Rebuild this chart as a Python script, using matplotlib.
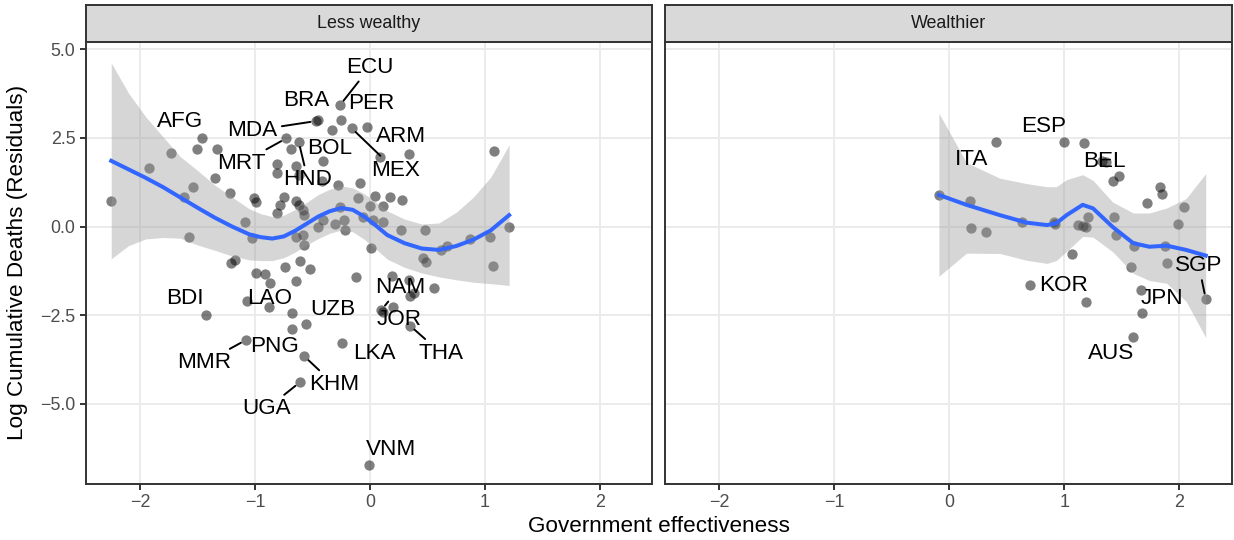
import matplotlib
matplotlib.use('Agg')
import matplotlib.pyplot as plt

plt.rcParams['font.family'] = ['Liberation Sans', 'DejaVu Sans']

panels = ['Less wealthy', 'Wealthier']

# points, less wealthy countries
less_x = [-2.25, -1.92, -1.73, -1.46, -1.50, -1.33, -1.35, -1.54, -1.62, -1.22,
          -1.57, -1.09, -1.03, -1.01, -0.99, -1.17, -1.21, -1.43, -1.07, -1.08,
          -0.99, -0.91, -0.87, -0.74, -0.61, -0.52, -0.64, -0.88, -0.68, -0.56,
          -0.68, -0.57, -0.61, -0.24, -0.12, -0.64, -0.57, -0.58, -0.45, -0.47,
          -0.25, -0.26, -0.33, -0.73, -0.62, -0.69, -0.41, -0.81, -0.81, -0.64,
          -0.62, -0.42, -0.28, -0.75, -0.78, -0.64, -0.62, -0.81, -0.58, -0.57,
          -0.45, -0.41, -0.30, -0.23, -0.22, -0.16, -0.03, 0.09, 0.34, -0.09,
          -0.10, 0.04, 0.17, 0.28, -0.26, 0.00, 0.11, -0.06, 0.03, 0.11,
          0.27, 0.48, 0.01, 0.67, 0.87, 1.04, 1.21, 1.08, 0.46, 0.49,
          0.62, 1.07, 0.19, 0.34, 0.56, 0.35, 0.38, 0.10, 0.11, 0.20,
          0.35, -0.01]
less_y = [0.72, 1.64, 2.08, 2.48, 2.18, 2.17, 1.36, 1.12, 0.84, 0.95,
          -0.30, 0.14, -0.33, 0.79, 0.70, -0.94, -1.02, -2.49, -2.09, -3.20,
          -1.30, -1.34, -1.60, -1.13, -0.96, -1.21, -1.53, -2.28, -2.44, -2.75,
          -2.90, -3.66, -4.39, -3.27, -1.41, -0.30, -0.52, -0.24, 3.00, 2.97,
          3.00, 3.42, 2.72, 2.48, 2.39, 2.18, 1.85, 1.75, 1.50, 1.70,
          1.45, 1.28, 1.17, 0.84, 0.61, 0.72, 0.61, 0.37, 0.46, 0.32,
          -0.01, 0.18, 0.07, 0.18, -0.10, 2.77, 2.81, 1.96, 2.04, 1.22,
          0.79, 0.87, 0.84, 0.76, 0.56, 0.58, 0.59, 0.28, 0.17, 0.14,
          -0.11, -0.11, -0.61, -0.55, -0.35, -0.29, -0.02, 2.13, -0.90, -0.99,
          -0.66, -1.10, -1.39, -1.51, -1.73, -1.96, -1.87, -2.35, -2.41, -2.28,
          -2.80, -6.72]

# points, wealthier countries
rich_x = [-0.09, 0.18, 0.19, 0.32, 0.41, 0.63, 0.70, 0.91, 0.92, 1.00,
          1.07, 1.12, 1.17, 1.19, 1.21, 1.19, 1.16, 1.33, 1.36, 1.42,
          1.48, 1.43, 1.45, 1.61, 1.58, 1.67, 1.68, 1.60, 1.72, 1.83,
          1.85, 1.88, 1.89, 1.99, 2.04, 2.23]
rich_y = [0.89, 0.72, -0.05, -0.15, 2.37, 0.14, -1.65, 0.14, 0.07, 2.37,
          -0.78, 0.04, 2.34, -2.12, 0.28, -0.01, 0.01, 1.85, 1.83, 1.28,
          1.42, 0.26, -0.24, -0.54, -1.15, -1.79, -2.45, -3.10, 0.65, 1.10,
          0.92, -0.55, -1.04, 0.06, 0.54, -2.04]

# loess fit and 95% band
less_fx = [-2.25, -2.1, -1.95, -1.8, -1.65, -1.5, -1.35, -1.2, -1.05, -0.95,
           -0.85, -0.75, -0.65, -0.55, -0.45, -0.35, -0.25, -0.15, -0.05, 0.05,
           0.15, 0.3, 0.45, 0.6, 0.75, 0.9, 1.05, 1.21]
less_fit = [1.85, 1.61, 1.37, 1.11, 0.82, 0.53, 0.25, 0.00, -0.22, -0.30,
            -0.34, -0.28, -0.12, 0.08, 0.28, 0.43, 0.52, 0.47, 0.28, 0.03,
            -0.24, -0.47, -0.62, -0.66, -0.55, -0.37, -0.11, 0.32]
less_hi = [4.61, 3.76, 3.09, 2.53, 1.97, 1.58, 1.17, 0.83, 0.50, 0.36,
           0.28, 0.32, 0.48, 0.68, 0.90, 1.05, 1.14, 1.09, 0.92, 0.69,
           0.44, 0.21, 0.07, 0.10, 0.40, 0.83, 1.39, 2.30]
less_lo = [-0.91, -0.54, -0.35, -0.31, -0.33, -0.52, -0.67, -0.83, -0.94, -0.96,
           -0.96, -0.88, -0.72, -0.52, -0.34, -0.19, -0.10, -0.15, -0.36, -0.63,
           -0.92, -1.15, -1.31, -1.42, -1.50, -1.57, -1.61, -1.66]

rich_fx = [-0.09, 0.15, 0.44, 0.67, 0.85, 0.93, 1.02, 1.16, 1.25, 1.42,
           1.60, 1.74, 1.89, 2.06, 2.23]
rich_fit = [0.89, 0.61, 0.32, 0.11, 0.04, 0.09, 0.32, 0.61, 0.51, -0.01,
            -0.47, -0.57, -0.54, -0.66, -0.82]
rich_hi = [3.19, 1.80, 1.36, 1.21, 1.12, 1.12, 1.32, 1.46, 1.30, 0.69,
           0.38, 0.38, 0.52, 0.79, 1.49]
rich_lo = [-1.40, -0.75, -0.76, -0.95, -1.04, -0.96, -0.70, -0.28, -0.30, -0.71,
           -1.32, -1.52, -1.60, -2.11, -3.13]

# country labels: code, point (x, y), label position (x, y), segment drawn
less_codes = ['ECU', 'BRA', 'PER', 'AFG', 'MDA', 'ARM', 'BOL', 'MRT', 'HND', 'MEX',
              'BDI', 'LAO', 'UZB', 'NAM', 'JOR', 'MMR', 'PNG', 'LKA', 'THA', 'KHM',
              'UGA', 'VNM']
less_px = [-0.26, -0.45, -0.25, -1.46, -0.47, 0.34, -0.41, -0.73, -0.62, -0.16,
           -1.43, -0.88, -0.56, 0.10, 0.11, -1.08, -0.68, -0.24, 0.35, -0.57,
           -0.61, -0.01]
less_py = [3.42, 3.00, 3.00, 2.48, 2.97, 2.04, 1.85, 2.48, 2.39, 2.77,
           -2.49, -2.28, -2.75, -2.35, -2.41, -3.20, -2.90, -3.27, -2.80, -3.66,
           -4.39, -6.72]
less_tx = [0.00, -0.55, 0.01, -1.65, -1.02, 0.27, -0.35, -1.12, -0.54, 0.22,
           -1.61, -0.87, -0.32, 0.26, 0.25, -1.44, -0.83, 0.04, 0.62, -0.31,
           -0.90, 0.18]
less_ty = [4.49, 3.56, 3.47, 2.95, 2.70, 2.53, 2.20, 1.78, 1.31, 1.59,
           -2.04, -2.02, -2.33, -1.71, -2.61, -3.84, -3.39, -3.57, -3.57, -4.45,
           -5.14, -6.27]
less_seg = ['ECU', 'MDA', 'MRT', 'HND', 'MEX', 'NAM', 'MMR', 'THA', 'KHM', 'UGA']

rich_codes = ['ITA', 'ESP', 'BEL', 'KOR', 'JPN', 'AUS', 'SGP']
rich_px = [0.41, 1.00, 1.33, 0.70, 1.67, 1.60, 2.23]
rich_py = [2.37, 2.37, 1.85, -1.65, -1.79, -3.10, -2.04]
rich_tx = [0.19, 0.82, 1.35, 0.99, 1.85, 1.41, 2.17]
rich_ty = [1.89, 2.81, 1.83, -1.65, -2.04, -3.57, -1.10]
rich_seg = ['SGP']

fig = plt.figure(figsize=(12.34, 5.4), dpi=100)

W, H = 1234, 540
pan_l = [85.7, 665.0]
pan_w = 566.6
pan_top, pan_bot = 41.7, 484.0
strip_top = 4.7

data = [
    (less_x, less_y, less_fx, less_fit, less_lo, less_hi,
     less_codes, less_px, less_py, less_tx, less_ty, less_seg),
    (rich_x, rich_y, rich_fx, rich_fit, rich_lo, rich_hi,
     rich_codes, rich_px, rich_py, rich_tx, rich_ty, rich_seg),
]

for i, (title, d) in enumerate(zip(panels, data)):
    px, py, fx, fit, lo, hi, codes, cx, cy, tx, ty, seg = d
    ax = fig.add_axes([pan_l[i] / W, 1 - pan_bot / H, pan_w / W, (pan_bot - pan_top) / H])
    ax.set_xlim(-2.472, 2.455)
    ax.set_ylim(-7.254, 5.206)
    ax.set_axisbelow(True)
    ax.grid(color='#EBEBEB', lw=1.4)
    for s in ax.spines.values():
        s.set_color('#333333')
        s.set_linewidth(1.4)
    ax.set_xticks([-2, -1, 0, 1, 2])
    ax.set_xticklabels(['\u22122', '\u22121', '0', '1', '2'])
    ax.set_yticks([-5, -2.5, 0, 2.5, 5])
    if i == 0:
        ax.set_yticklabels(['\u22125.0', '\u22122.5', '0.0', '2.5', '5.0'])
        ax.tick_params(axis='y', length=4.3, width=1.4, color='#333333',
                       labelsize=12.9, labelcolor='#4D4D4D', pad=3)
    else:
        ax.tick_params(axis='y', length=0, labelleft=False)
    ax.tick_params(axis='x', length=4.3, width=1.4, color='#333333',
                   labelsize=12.9, labelcolor='#4D4D4D', pad=3)

    ax.scatter(px, py, s=55, color='black', alpha=0.5, linewidths=0, zorder=2)
    ax.fill_between(fx, lo, hi, color='#999999', alpha=0.4, linewidth=0, zorder=3)
    ax.plot(fx, fit, color='#3366FF', lw=2.9, zorder=4, solid_joinstyle='round')

    for c, x0, y0, x1, y1 in zip(codes, cx, cy, tx, ty):
        if c in seg:
            ax.annotate(c, xy=(x0, y0), xytext=(x1, y1), ha='center', va='center',
                        fontsize=16.2, color='black', zorder=5,
                        arrowprops=dict(arrowstyle='-', color='black', lw=1.4,
                                        shrinkA=1, shrinkB=4))
        else:
            ax.text(x1, y1, c, ha='center', va='center', fontsize=16.2,
                    color='black', zorder=5)

    # facet strip
    sax = fig.add_axes([pan_l[i] / W, 1 - pan_top / H, pan_w / W, (pan_top - strip_top) / H])
    sax.set_facecolor('#D9D9D9')
    sax.set_xticks([])
    sax.set_yticks([])
    for s in sax.spines.values():
        s.set_color('#333333')
        s.set_linewidth(1.4)
    sax.text(0.5, 0.5, title, ha='center', va='center', fontsize=12.9,
             color='#1A1A1A', transform=sax.transAxes)

fig.text((pan_l[0] + pan_l[1] + pan_w) / 2 / W, 1 - 527 / H, 'Government effectiveness',
         ha='center', va='center', fontsize=16.2)
fig.text(18 / W, 1 - (pan_top + pan_bot) / 2 / H, 'Log Cumulative Deaths (Residuals)',
         ha='center', va='center', rotation=90, fontsize=16.2)

fig.savefig('out.png', dpi=100)
